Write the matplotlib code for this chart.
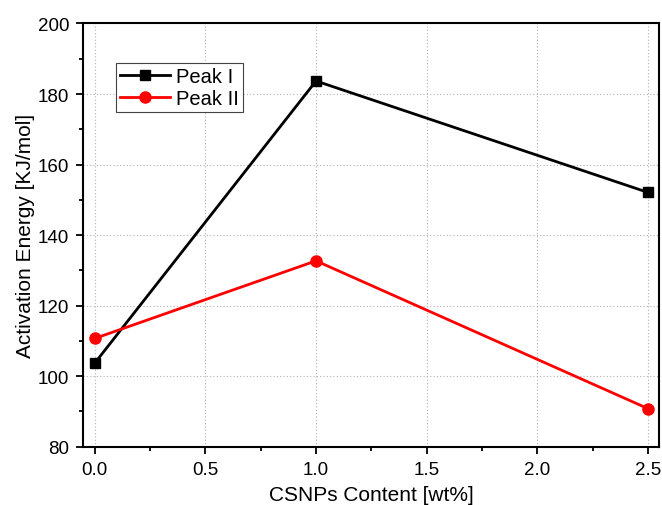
import matplotlib
matplotlib.use("Agg")
import matplotlib.pyplot as plt
from matplotlib.ticker import MultipleLocator

plt.rcParams['font.family'] = ['Liberation Sans', 'DejaVu Sans']

x = [0.0, 1.0, 2.5]
peak1 = [103.7, 183.7, 152.1]
peak2 = [110.7, 132.7, 90.8]

fig = plt.figure(figsize=(6.62, 5.06), dpi=100)
ax = fig.add_axes([0.1254, 0.1152, 0.8701, 0.8364])

ax.plot(x, peak1, color='black', lw=2, marker='s', ms=7, label='Peak I', zorder=3)
ax.plot(x, peak2, color='red', lw=2, marker='o', ms=8, label='Peak II', zorder=3)

ax.set_xlim(-0.053, 2.55)
ax.set_ylim(80, 200)
ax.xaxis.set_major_locator(MultipleLocator(0.5))
ax.xaxis.set_minor_locator(MultipleLocator(0.25))
ax.yaxis.set_major_locator(MultipleLocator(20))
ax.yaxis.set_minor_locator(MultipleLocator(10))
ax.tick_params(which='major', direction='out', length=5, width=1.3, labelsize=13.5, colors='black', pad=5)
ax.tick_params(which='minor', direction='out', length=3, width=1.3)
ax.grid(True, which='major', color='#b0b0b0', linestyle=(0, (1, 2)), linewidth=0.8)
for s in ax.spines.values():
    s.set_linewidth(1.5)

ax.set_xlabel('CSNPs Content [wt%]', fontsize=15, labelpad=5)
ax.set_ylabel('Activation Energy [KJ/mol]', fontsize=15, labelpad=2)

leg = ax.legend(loc='upper left', bbox_to_anchor=(0.057, 0.907), fontsize=14.5,
                frameon=True, fancybox=False, edgecolor='#444444', framealpha=1,
                borderpad=0.2, handlelength=2.5, handletextpad=0.3, labelspacing=0.15,
                borderaxespad=0)
leg.get_frame().set_linewidth(0.8)

fig.savefig('out.png', dpi=100)
